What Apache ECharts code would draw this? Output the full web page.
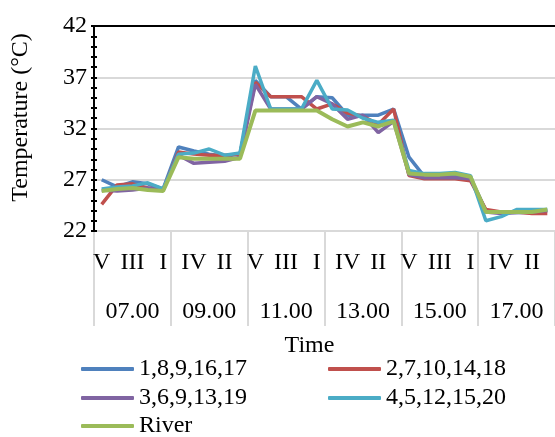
<!DOCTYPE html>
<html><head><meta charset="utf-8">
<script src="https://cdn.jsdelivr.net/npm/echarts@6/dist/echarts.min.js"></script>
<style>html,body{margin:0;padding:0;background:#fff}#c{width:555px;height:437px}</style>
</head><body><div id="c"></div>
<script>
const subLabels = ['V','IV','III','II','I'];
const timeGroups = ['07.00','09.00','11.00','13.00','15.00','17.00'];
const seriesNames = ['1,8,9,16,17','2,7,10,14,18','3,6,9,13,19','4,5,12,15,20','River'];
const s1 = [27.0,26.3,26.8,26.6,26.1, 30.2,29.8,29.5,29.3,29.5, 36.7,35.1,35.1,33.9,35.1, 35.0,33.3,33.3,33.3,33.9, 29.2,27.3,27.3,27.3,27.2, 24.0,23.8,23.8,23.8,24.0];
const s2 = [24.6,26.5,26.6,26.2,26.0, 29.7,29.5,29.4,29.4,29.5, 36.5,35.1,35.1,35.1,33.9, 34.4,33.5,33.2,32.4,33.9, 27.4,27.1,27.1,27.1,26.9, 24.1,23.85,23.85,23.7,23.7];
const s3 = [26.0,25.9,26.0,26.2,26.0, 29.4,28.6,28.7,28.8,29.2, 36.3,33.9,33.9,33.9,35.1, 34.4,32.9,33.3,31.6,32.7, 27.5,27.2,27.2,27.2,27.1, 23.85,23.7,23.8,23.85,24.0];
const s4 = [26.1,26.3,26.4,26.7,26.1, 29.5,29.6,30.0,29.4,29.6, 38.1,33.9,33.9,33.9,36.7, 33.9,33.8,33.0,32.6,32.8, 27.9,27.6,27.6,27.7,27.4, 23.0,23.4,24.1,24.1,24.1];
const river = [25.9,26.1,26.2,26.0,25.9, 29.2,29.05,29.05,29.05,29.05, 33.75,33.75,33.75,33.75,33.75, 32.9,32.2,32.6,32.2,32.7, 27.6,27.5,27.5,27.6,27.3, 23.85,23.85,23.85,23.85,24.1];
const yMin = 22, yMax = 42, yStep = 5;

const FONT = "'Liberation Serif','Times New Roman',serif";
const colors = ['#4F81BD','#C0504D','#8064A2','#4BACC6','#9BBB59'];
const cats = [];
timeGroups.forEach((g, gi) => subLabels.forEach((s, si) => cats.push(s + '|' + gi + '_' + si)));
const values = [s1, s2, s3, s4, river];

const chart = echarts.init(document.getElementById('c'), null, {renderer: 'canvas'});
const txt = {fontFamily: FONT, fontSize: 24, color: '#000'};
const legendPos = [[76, 352], [323, 352], [76, 381], [323, 381], [76, 409]];
const legends = seriesNames.map((n, i) => ({
  orient: 'horizontal', itemWidth: 53, itemHeight: 4, icon: 'roundRect',
  left: legendPos[i][0], top: legendPos[i][1], data: [n],
  textStyle: txt, selectedMode: false
}));
const tickAxisBase = {
  type: 'value', min: yMin, max: yMax, interval: yStep, gridIndex: 0,
  axisLine: {show: false}, axisLabel: {show: false}, splitLine: {show: false},
  axisTick: {show: true, inside: false, length: 6, lineStyle: {color: '#000', width: 2}},
  minorTick: {show: true, splitNumber: 5, length: 6, lineStyle: {color: '#000', width: 2}},
  z: 10
};
chart.setOption({
  animation: false,
  color: colors,
  grid: {left: 94, top: 26, width: 464, height: 205, containLabel: false},
  xAxis: [
    {type: 'category', data: cats, position: 'bottom', boundaryGap: true,
     axisLine: {show: true, lineStyle: {color: '#d9d9d9', width: 2}},
     axisTick: {show: false},
     axisLabel: Object.assign({}, txt, {interval: 1, margin: 20, formatter: v => v.split('|')[0]})},
    {type: 'category', data: timeGroups, position: 'bottom', boundaryGap: true,
     axisLine: {show: false},
     axisTick: {show: true, length: 95, interval: 0, lineStyle: {color: '#d9d9d9', width: 2}},
     axisLabel: Object.assign({}, txt, {interval: 0, margin: 69}),
     name: 'Time', nameLocation: 'middle', nameGap: 103,
     nameTextStyle: Object.assign({}, txt, {padding: [0, 30, 0, 0]})},
    {type: 'category', data: timeGroups, position: 'top',
     axisLine: {show: true, lineStyle: {color: '#000', width: 2}},
     axisTick: {show: false}, axisLabel: {show: false}}
  ],
  yAxis: [{
    type: 'value', min: yMin, max: yMax, interval: yStep, position: 'left',
    axisLine: {show: true, lineStyle: {color: '#000', width: 2}},
    axisTick: {show: false},
    splitLine: {show: true, lineStyle: {color: '#d9d9d9', width: 2}},
    axisLabel: Object.assign({}, txt, {margin: 7}),
    name: 'Temperature (°C)', nameLocation: 'middle', nameGap: 61, nameRotate: 90,
    nameTextStyle: Object.assign({}, txt, {padding: [0, 0, 0, 22]})
  },
  Object.assign({}, tickAxisBase, {position: 'right', offset: -464})
  ],
  legend: legends,
  series: seriesNames.map((n, i) => ({
    name: n, type: 'line', xAxisIndex: 0, yAxisIndex: 0, data: values[i], symbol: 'none', showSymbol: false,
    lineStyle: {width: i === 4 ? 4 : 3.5, color: colors[i]}, itemStyle: {color: colors[i]}
  }))
});
</script></body></html>
